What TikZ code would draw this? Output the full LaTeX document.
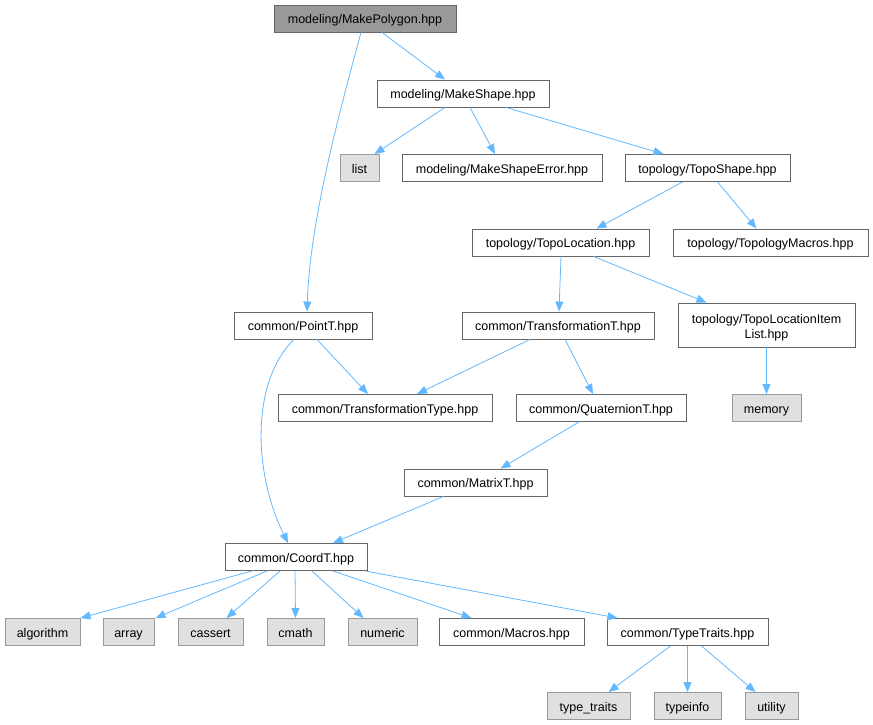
\documentclass[tikz,border=0pt]{standalone}
\usepackage{fontspec}
\setmainfont{Liberation Sans}
\usetikzlibrary{arrows.meta}

\definecolor{edgeblue}{HTML}{63B8FF}
\definecolor{boxline}{HTML}{666666}
\definecolor{sysline}{HTML}{999999}
\definecolor{sysfill}{HTML}{E0E0E0}
\definecolor{mainfill}{HTML}{999999}

\begin{document}
\begin{tikzpicture}[x=1pt, y=-1pt, font=\fontsize{12.5}{15.5}\selectfont,
	block/.style = { rectangle, draw=boxline, line width=0.9pt, fill=white,
	inner sep=0pt, minimum height=27pt, text height=10.5pt, text depth=0.5pt },
	mainblock/.style = { block, fill=mainfill },
	sysblock/.style = { block, draw=sysline, fill=sysfill },
	edge/.style = { draw=edgeblue, line width=0.8pt,
	-{Triangle[length=10pt, width=8pt]}, edgeblue } ]

  \useasboundingbox (0,0) rectangle (873,725);

  \node [name=mkpoly, mainblock, minimum width=182pt] at (365,18.5) { modeling/MakePolygon.hpp };
  \node [name=mkshape, block, minimum width=172pt] at (463,93.5) { modeling/MakeShape.hpp };
  \node [name=list, sysblock, minimum width=39pt] at (359.5,168) { list };
  \node [name=mkerr, block, minimum width=200pt] at (502,168) { modeling/MakeShapeError.hpp };
  \node [name=toposhape, block, minimum width=165pt] at (707.5,168) { topology/TopoShape.hpp };
  \node [name=topoloc, block, minimum width=177pt] at (560.5,242.5) { topology/TopoLocation.hpp };
  \node [name=topomacros, block, minimum width=195pt] at (770.5,242.5) { topology/TopologyMacros.hpp };
  \node [name=pointt, block, minimum width=138pt] at (303,325.5) { common/PointT.hpp };
  \node [name=transt, block, minimum width=192pt] at (558,325.5) { common/TransformationT.hpp };
  \node [name=itemlist, block, minimum width=177pt, minimum height=44pt,
	text height=28pt, text depth=1pt, align=center] at (766.5,325)
	{ topology/TopoLocationItem\\List.hpp };
  \node [name=transtype, block, minimum width=214pt] at (385,408) { common/TransformationType.hpp };
  \node [name=quat, block, minimum width=170pt] at (601,408) { common/QuaternionT.hpp };
  \node [name=memory, sysblock, minimum width=69pt] at (766.5,408) { memory };
  \node [name=matrixt, block, minimum width=143pt] at (475.5,482.5) { common/MatrixT.hpp };
  \node [name=coordt, block, minimum width=142pt] at (296,557) { common/CoordT.hpp };
  \node [name=algorithm, sysblock, minimum width=75pt] at (42.5,632) { algorithm };
  \node [name=array, sysblock, minimum width=51pt] at (128.5,632) { array };
  \node [name=cassert, sysblock, minimum width=65pt] at (210.5,632) { cassert };
  \node [name=cmath, sysblock, minimum width=57pt] at (295.5,632) { cmath };
  \node [name=numeric, sysblock, minimum width=69pt] at (382.5,632) { numeric };
  \node [name=macros, block, minimum width=145pt] at (511.5,632) { common/Macros.hpp };
  \node [name=typetraits, block, minimum width=161pt] at (687.5,632) { common/TypeTraits.hpp };
  \node [name=typetr, sysblock, minimum width=83pt] at (588.5,706) { type\_traits };
  \node [name=typeinfo, sysblock, minimum width=67pt] at (687.5,706) { typeinfo };
  \node [name=utility, sysblock, minimum width=53pt] at (771.5,706) { utility };

  % include edges
  \draw [edge] ([xshift=17pt]mkpoly.south) -- ([xshift=-18pt]mkshape.north);
  \draw [edge] ([xshift=-4pt]mkpoly.south) .. controls (340,110) and (310,220) .. ([xshift=4pt]pointt.north);
  \draw [edge] ([xshift=-18pt]mkshape.south) -- ([xshift=15pt]list.north);
  \draw [edge] ([xshift=7pt]mkshape.south) -- ([xshift=-7pt]mkerr.north);
  \draw [edge] ([xshift=43pt]mkshape.south) -- ([xshift=-44pt]toposhape.north);
  \draw [edge] ([xshift=-25pt]toposhape.south) -- ([xshift=36pt]topoloc.north);
  \draw [edge] ([xshift=10pt]toposhape.south) -- ([xshift=-14pt]topomacros.north);
  \draw [edge] ([xshift=0.5pt]topoloc.south) -- ([xshift=1pt]transt.north);
  \draw [edge] ([xshift=33pt]topoloc.south) -- ([xshift=-60pt]itemlist.north);
  \draw [edge] (itemlist.south) -- (memory.north);
  \draw [edge] ([xshift=14pt]pointt.south) -- ([xshift=-17pt]transtype.north);
  \draw [edge] ([xshift=-9pt]pointt.south) .. controls (252,380) and (252,470) .. ([xshift=-8pt]coordt.north);
  \draw [edge] ([xshift=-28pt]transt.south) -- ([xshift=32pt]transtype.north);
  \draw [edge] ([xshift=7pt]transt.south) -- ([xshift=-8pt]quat.north);
  \draw [edge] ([xshift=-22pt]quat.south) -- ([xshift=25pt]matrixt.north);
  \draw [edge] ([xshift=-32pt]matrixt.south) -- ([xshift=37pt]coordt.north);
  \draw [edge] ([xshift=-44pt]coordt.south) -- ([xshift=38pt]algorithm.north);
  \draw [edge] ([xshift=-29pt]coordt.south) -- ([xshift=27pt]array.north);
  \draw [edge] ([xshift=-16pt]coordt.south) -- ([xshift=16pt]cassert.north);
  \draw [edge] ([xshift=-1pt]coordt.south) -- (cmath.north);
  \draw [edge] ([xshift=16pt]coordt.south) -- ([xshift=-19pt]numeric.north);
  \draw [edge] ([xshift=37pt]coordt.south) -- ([xshift=-40pt]macros.north);
  \draw [edge] ([xshift=69pt]coordt.south) -- ([xshift=-70pt]typetraits.north);
  \draw [edge] ([xshift=-17pt]typetraits.south) -- ([xshift=20pt]typetr.north);
  \draw [edge] (typetraits.south) -- (typeinfo.north);
  \draw [edge] ([xshift=14pt]typetraits.south) -- ([xshift=-16pt]utility.north);
\end{tikzpicture}
\end{document}
